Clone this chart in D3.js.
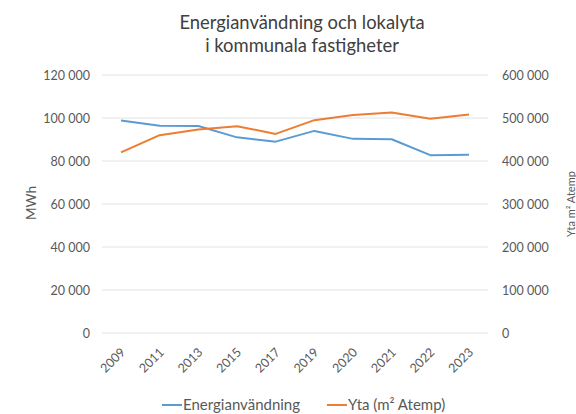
<!DOCTYPE html>
<html>
<head>
  <meta charset="utf-8">
  <script src="https://cdn.jsdelivr.net/npm/d3@7"></script>
  <style>
    body { margin: 0; background: #fff; }
    text { font-family: Lato, "Open Sans", sans-serif; }
  </style>
</head>
<body>
  <div id="viz"></div>
  <script>
  // years on the x axis
  var years = ["2009", "2011", "2013", "2015", "2017", "2019", "2020", "2021", "2022", "2023"];
  // energy use, MWh (left axis)
  var energi = [98800, 96400, 96300, 91000, 89000, 94000, 90300, 90100, 82700, 82900];
  // area, m2 Atemp (right axis)
  var yta = [420000, 460000, 473000, 481000, 463000, 495000, 507000, 513000, 498000, 508000];
  var leftTicks = [0, 20000, 40000, 60000, 80000, 100000, 120000];
  var rightTicks = [0, 100000, 200000, 300000, 400000, 500000, 600000];

  var W = 576, H = 414;
  var blue = "#5b9bd5", orange = "#ed7d31", txt = "#595959";

  var svg = d3.select("#viz").append("svg")
      .attr("width", W)
      .attr("height", H);

  var x = d3.scalePoint().domain(years).range([121, 469]);
  var yL = d3.scaleLinear().domain([0, 120000]).range([333, 75]);
  var yR = d3.scaleLinear().domain([0, 600000]).range([333, 75]);

  var fmt = d3.formatLocale({decimal: ",", thousands: " ", grouping: [3], currency: ["", ""]}).format(",");

  // gridlines
  svg.append("g").selectAll("line")
    .data(leftTicks).enter().append("line")
      .attr("x1", 102).attr("x2", 488)
      .attr("y1", function(d){ return yL(d); })
      .attr("y2", function(d){ return yL(d); })
      .attr("stroke", "#e2e2e2")
      .attr("stroke-width", 1);

  // left axis
  var gl = svg.append("g").attr("transform", "translate(90,0)")
      .call(d3.axisLeft(yL).tickValues(leftTicks).tickFormat(fmt).tickSize(0).tickPadding(0));
  gl.select(".domain").remove();
  gl.selectAll("text").attr("fill", txt).style("font-size", "12.5px");

  // right axis
  var gr = svg.append("g").attr("transform", "translate(502,0)")
      .call(d3.axisRight(yR).tickValues(rightTicks).tickFormat(fmt).tickSize(0).tickPadding(0));
  gr.select(".domain").remove();
  gr.selectAll("text").attr("fill", txt).style("font-size", "12.5px");

  // x labels
  svg.append("g").selectAll("text")
    .data(years).enter().append("text")
      .attr("transform", function(d){ return "translate(" + (x(d) + 2) + ",350) rotate(-45)"; })
      .attr("text-anchor", "end")
      .attr("dy", "0.35em")
      .attr("fill", txt)
      .style("font-size", "12.5px")
      .text(function(d){ return d; });

  // lines
  var lineL = d3.line().x(function(d, i){ return x(years[i]); }).y(function(d){ return yL(d); });
  var lineR = d3.line().x(function(d, i){ return x(years[i]); }).y(function(d){ return yR(d); });

  svg.append("path").datum(energi)
      .attr("d", lineL).attr("fill", "none")
      .attr("stroke", blue).attr("stroke-width", 2).attr("stroke-linejoin", "round");
  svg.append("path").datum(yta)
      .attr("d", lineR).attr("fill", "none")
      .attr("stroke", orange).attr("stroke-width", 2).attr("stroke-linejoin", "round");

  // title
  var title = svg.append("text")
      .attr("x", 302).attr("y", 29)
      .attr("text-anchor", "middle")
      .attr("fill", "#404040")
      .style("font-size", "18.4px");
  title.append("tspan").attr("x", 302).text("Energianvändning och lokalyta");
  title.append("tspan").attr("x", 302).attr("dy", "1.25em").text("i kommunala fastigheter");

  // axis titles
  svg.append("text")
      .attr("transform", "translate(31,203) rotate(-90)")
      .attr("text-anchor", "middle")
      .attr("dy", "0.35em")
      .attr("fill", txt)
      .style("font-size", "13.5px")
      .text("MWh");
  svg.append("text")
      .attr("transform", "translate(575,204) rotate(-90)")
      .attr("text-anchor", "middle")
      .attr("fill", txt)
      .style("font-size", "11px")
      .text("Yta m² Atemp");

  // legend
  var legend = [{name: "Energianvändning", color: blue, x: 162},
                {name: "Yta (m² Atemp)", color: orange, x: 327}];
  var lg = svg.append("g").selectAll("g")
    .data(legend).enter().append("g")
      .attr("transform", function(d){ return "translate(" + d.x + ",405)"; });
  lg.append("line").attr("x1", 0).attr("x2", 20)
      .attr("stroke", function(d){ return d.color; }).attr("stroke-width", 2);
  lg.append("text").attr("x", 21).attr("dy", "0.35em")
      .attr("fill", txt)
      .style("font-size", "15px")
      .text(function(d){ return d.name; });
  </script>
</body>
</html>
